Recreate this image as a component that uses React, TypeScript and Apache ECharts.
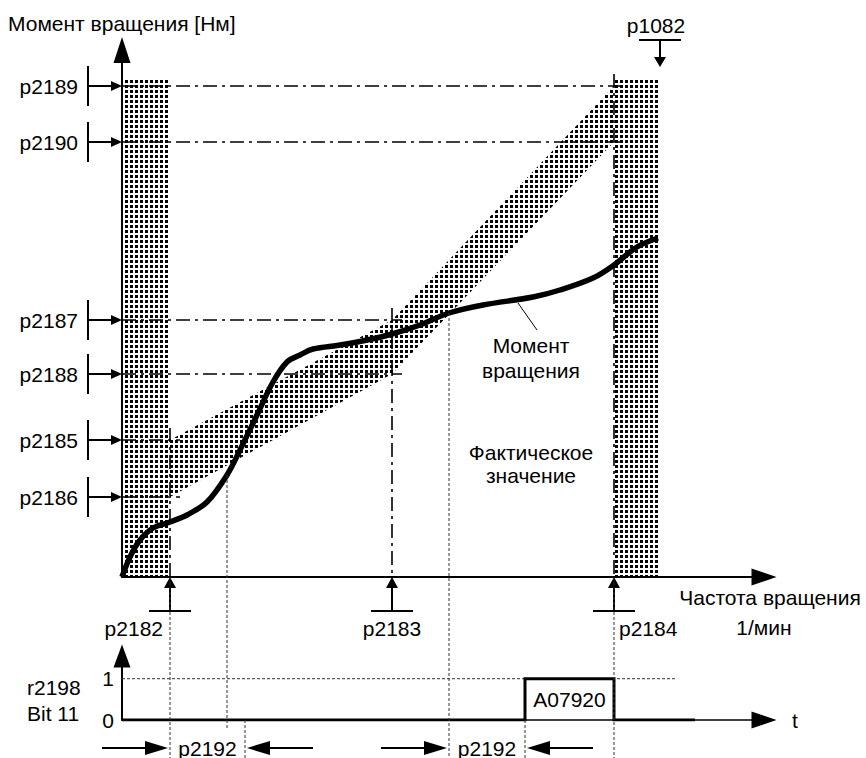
import React, { useEffect, useRef } from 'react';
import * as echarts from 'echarts';

// ---- data (chart units) ----
const speedThresholdNames = ['p2182', 'p2183', 'p2184'];
const speedThresholds = [48, 270, 492];
const maxSpeedName = 'p1082';
const maxSpeed = 536;
const upperTorqueNames = ['p2185', 'p2187', 'p2189'];
const upperTorque = [137, 257, 491];
const lowerTorqueNames = ['p2186', 'p2188', 'p2190'];
const lowerTorque = [80, 203, 435];
const bandTop = 499;
const curveSpeed = [0, 8, 18, 31, 48, 65, 85, 105, 118, 135, 151, 165, 178, 191, 218, 245, 270, 298, 327, 361, 411, 438, 471, 492, 515, 536];
const curveTorque = [0, 20, 37, 49, 55, 62, 75, 102, 127, 162, 195, 215, 222, 228, 232, 237, 243, 252, 264, 272, 280, 287, 299, 312, 330, 339];
const crossingSpeeds = [105, 327];
const signalTime = [0, 403, 403, 492, 492, 573];
const signalBit = [0, 0, 1, 1, 0, 0];
const delayName = 'p2192';
const delayStart = [48, 327];
const delayEnd = [123, 403];
const alarmText = 'A07920';
const yAxisTitle = 'Момент вращения [Нм]';
const xAxisTitle = ['Частота вращения', '1/мин'];
const curveLabel = ['Момент', 'вращения'];
const actualLabel = ['Фактическое', 'значение'];
const bitLabel = ['r2198', 'Bit 11'];
const timeLabel = 't';

const X_MAX = 642;
const Y_MAX = 527;
const BIT_MAX = 1.55;
const levelOneEnd = 555;

const FONT = '21px "Liberation Sans", Arial, sans-serif';
const DASHDOT = [14, 5, 3, 5];

export default function App() {
  const ref = useRef<HTMLDivElement>(null);
  useEffect(() => {
    if (!ref.current) return;
    const chart = echarts.init(ref.current, null, { renderer: 'svg' });

    const c = document.createElement('canvas');
    c.width = 5; c.height = 5;
    const ctx = c.getContext('2d')!;
    ctx.fillStyle = '#000';
    ctx.fillRect(0, 0, 3, 3);
    const stipple: any = { image: c, repeat: 'repeat', imageWidth: 5, imageHeight: 5 };

    const thresholdLines: any[] = [];
    [upperTorque, lowerTorque].forEach((arr) => {
      arr.forEach((v, i) => {
        thresholdLines.push({
          type: 'line', xAxisIndex: 0, yAxisIndex: 0, symbol: 'none', z: 3,
          data: [[0, v], [speedThresholds[i] + 10, v]],
          lineStyle: { color: '#000', width: 1.6, type: DASHDOT },
        });
      });
    });
    speedThresholds.forEach((s, i) => {
      thresholdLines.push({
        type: 'line', xAxisIndex: 0, yAxisIndex: 0, symbol: 'none', z: 3,
        data: [[s, upperTorque[i] + 12], [s, 0]],
        lineStyle: { color: '#000', width: 1.6, type: DASHDOT },
      });
    });

    const hiddenAxis = {
      axisTick: { show: false }, axisLabel: { show: false }, splitLine: { show: false },
    };

    chart.setOption({
      animation: false,
      backgroundColor: '#fff',
      grid: [
        { left: 122, top: 50, width: X_MAX, height: Y_MAX },
        { left: 122, top: 656, width: X_MAX, height: 64 },
      ],
      xAxis: [
        {
          gridIndex: 0, type: 'value', min: 0, max: X_MAX, ...hiddenAxis,
          axisLine: { show: true, symbol: ['none', 'triangle'], symbolSize: [17, 25], lineStyle: { color: '#000', width: 2 } },
        },
        {
          gridIndex: 1, type: 'value', min: 0, max: X_MAX, ...hiddenAxis,
          axisLine: { show: true, symbol: ['none', 'triangle'], symbolSize: [17, 25], lineStyle: { color: '#000', width: 1.5 } },
        },
      ],
      yAxis: [
        {
          gridIndex: 0, type: 'value', min: 0, max: Y_MAX, ...hiddenAxis,
          axisLine: { show: true, symbol: ['none', 'triangle'], symbolSize: [17, 26], lineStyle: { color: '#000', width: 2 } },
        },
        {
          gridIndex: 1, type: 'value', min: 0, max: BIT_MAX, interval: 1,
          axisTick: { show: false }, splitLine: { show: false },
          axisLabel: {
            show: true, margin: 8, color: '#000', fontSize: 21, fontFamily: '"Liberation Sans", Arial, sans-serif',
            formatter: (v: number) => (v === 0 || v === 1 ? String(v) : ''),
          },
          axisLine: { show: true, symbol: ['none', 'triangle'], symbolSize: [17, 23], lineStyle: { color: '#000', width: 2 } },
        },
      ],
      series: [
        {
          type: 'custom', xAxisIndex: 0, yAxisIndex: 0, z: 1, silent: true,
          data: [[0, 0]],
          renderItem: (_p: any, api: any) => {
            const pt = (x: number, y: number) => api.coord([x, y]);
            const s0 = speedThresholds[0];
            const s2 = speedThresholds[2];
            const left = [pt(0, 0), pt(s0, 0), pt(s0, bandTop), pt(0, bandTop)];
            const right = [pt(s2, 0), pt(maxSpeed, 0), pt(maxSpeed, bandTop), pt(s2, bandTop)];
            const diag = [
              ...speedThresholds.map((s, i) => pt(s, upperTorque[i])),
              ...speedThresholds.map((s, i) => pt(s, lowerTorque[i])).reverse(),
            ];
            return {
              type: 'group',
              children: [left, right, diag].map((points) => ({
                type: 'polygon', shape: { points }, style: { fill: stipple, stroke: 'none' },
              })),
            };
          },
        },
        ...thresholdLines,
        {
          type: 'line', xAxisIndex: 0, yAxisIndex: 0, symbol: 'none', smooth: 0.35, z: 5,
          data: curveSpeed.map((s, i) => [s, curveTorque[i]]),
          lineStyle: { color: '#000', width: 5.5 },
        },
        {
          type: 'line', xAxisIndex: 1, yAxisIndex: 1, symbol: 'none', z: 3,
          data: [[0, 1], [levelOneEnd, 1]],
          lineStyle: { color: '#333', width: 1, type: [3, 2] },
        },
        {
          type: 'line', xAxisIndex: 1, yAxisIndex: 1, symbol: 'none', z: 5,
          data: signalTime.map((t, i) => [t, signalBit[i]]),
          lineStyle: { color: '#000', width: 3, join: 'miter' },
        },
      ],
    });

    const P0 = (x: number, y: number) => chart.convertToPixel({ gridIndex: 0 }, [x, y]) as number[];
    const P1 = (x: number, y: number) => chart.convertToPixel({ gridIndex: 1 }, [x, y]) as number[];
    const T = (text: string, x: number, y: number, align = 'center') => ({
      type: 'text', x, y, z: 10, silent: true,
      style: { text, font: FONT, fill: '#000', textAlign: align, textVerticalAlign: 'middle' },
    });
    const L = (x1: number, y1: number, x2: number, y2: number, w = 2, dash?: number[], color = '#000') => ({
      type: 'line', z: 9, silent: true, shape: { x1, y1, x2, y2 },
      style: { stroke: color, lineWidth: w, lineDash: dash },
    });
    const TRI = (pts: number[][]) => ({ type: 'polygon', z: 9, silent: true, shape: { points: pts }, style: { fill: '#000' } });

    const g: any[] = [];
    const [axisX, axisY] = P0(0, 0);
    // Left torque threshold markers
    const names = [...upperTorqueNames, ...lowerTorqueNames];
    [...upperTorque, ...lowerTorque].forEach((v, i) => {
      const y = P0(0, v)[1];
      g.push(T(names[i], axisX - 44, y, 'right'));
      g.push(L(axisX - 34, y - 20, axisX - 34, y + 20));
      g.push(L(axisX - 34, y, axisX - 11, y));
      g.push(TRI([[axisX - 11, y - 5], [axisX, y], [axisX - 11, y + 5]]));
    });
    // Speed threshold markers
    const aligns = ['right', 'center', 'left'];
    const offs = [-7, 0, 5];
    speedThresholds.forEach((s, i) => {
      const x = P0(s, 0)[0];
      g.push(TRI([[x - 6, axisY + 11], [x, axisY], [x + 6, axisY + 11]]));
      g.push(L(x, axisY + 10, x, axisY + 34));
      g.push(L(x - 21, axisY + 34, x + 21, axisY + 34));
      g.push(T(speedThresholdNames[i], x + offs[i], axisY + 51, aligns[i]));
    });
    // p1082
    {
      const x = P0(maxSpeed, 0)[0] + 2;
      const tip = P0(0, bandTop)[1] - 11;
      g.push(TRI([[x - 6, tip - 10], [x, tip], [x + 6, tip - 10]]));
      g.push(L(x, tip - 10, x, tip - 27));
      g.push(L(x - 21, tip - 27, x + 21, tip - 27));
      g.push(T(maxSpeedName, x - 4, tip - 42));
    }
    // titles
    g.push(T(yAxisTitle, 8, 23, 'left'));
    g.push(T(xAxisTitle[0], 770, 597));
    g.push(T(xAxisTitle[1], 764, 627));
    // curve labels
    {
      const a = P0(396, 274), b = P0(415, 247);
      g.push(L(a[0], a[1], b[0], b[1], 1));
      let p = P0(409, 232); g.push(T(curveLabel[0], p[0], p[1]));
      p = P0(409, 207); g.push(T(curveLabel[1], p[0], p[1]));
      p = P0(409, 125); g.push(T(actualLabel[0], p[0], p[1]));
      p = P0(409, 102); g.push(T(actualLabel[1], p[0], p[1]));
    }
    // dotted verticals
    const [, baseY1] = P1(0, 0);
    const bottom = 758;
    const DOT = [3, 2];
    [speedThresholds[0], speedThresholds[2]].forEach((s) => {
      const x = P0(s, 0)[0];
      g.push(L(x, axisY, x, bottom, 1, DOT, '#333'));
    });
    crossingSpeeds.forEach((s, i) => {
      const x = P0(s, 0)[0];
      const y = P0(s, curveTorque[curveSpeed.indexOf(s)])[1];
      g.push(L(x, y, x, i === 0 ? baseY1 + 8 : bottom, 1, DOT, '#333'));
    });
    delayEnd.forEach((s) => {
      const x = P1(s, 0)[0];
      g.push(L(x, baseY1, x, bottom, 1, DOT, '#333'));
    });
    // p2192 delay arrows
    const ay = 748;
    delayStart.forEach((s, i) => {
      const xa = P1(s, 0)[0];
      const xb = P1(delayEnd[i], 0)[0];
      g.push(L(xa - 68, ay, xa - 24, ay));
      g.push(TRI([[xa - 25, ay - 7], [xa - 2, ay], [xa - 25, ay + 7]]));
      g.push(T(delayName, (xa + xb) / 2, ay));
      g.push(L(xb + 24, ay, xb + 68, ay));
      g.push(TRI([[xb + 25, ay - 7], [xb + 2, ay], [xb + 25, ay + 7]]));
    });
    // lower chart labels
    g.push(T(bitLabel[0], 27, 687, 'left'));
    g.push(T(bitLabel[1], 27, 713, 'left'));
    g.push(T(timeLabel, P1(X_MAX, 0)[0] + 31, baseY1));
    {
      const p = P1((signalTime[2] + signalTime[3]) / 2, 0.5);
      g.push(T(alarmText, p[0], p[1]));
    }

    chart.setOption({ graphic: g });
    return () => chart.dispose();
  }, []);
  return <div ref={ref} style={{ position: 'fixed', left: 0, top: 0, width: 866, height: 758, background: '#fff' }} />;
}
